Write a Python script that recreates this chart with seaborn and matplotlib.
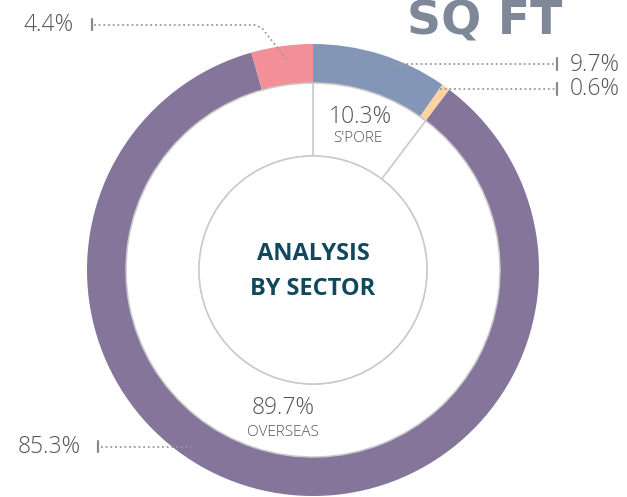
import matplotlib
matplotlib.use("Agg")
import matplotlib.pyplot as plt
import seaborn as sns

# Outer ring: share of floor area by segment (clockwise from 12 o'clock)
segments = ["Singapore A", "Singapore B", "Overseas", "Other"]
outer_values = [9.7, 0.6, 85.3, 4.4]
outer_colors = ["#8496B8", "#FCD3A1", "#85759B", "#F38F97"]

# Inner split: Singapore vs overseas
inner_labels = ["S'PORE", "OVERSEAS"]
inner_values = [10.3, 89.7]

sns.set_theme(style="white")
plt.rcParams["font.family"] = ["Open Sans", "DejaVu Sans"]

W, H = 627, 497
fig = plt.figure(figsize=(W / 100, H / 100), dpi=100)
ax = fig.add_axes([0, 0, 1, 1])


def Y(py):
    """Convert a top-down pixel row into the axes' bottom-up coordinate."""
    return H - py


cx, cy = 313, Y(270)
R_OUT, RING_W, R_MID = 226, 39, 114

# Outer donut ring
ax.pie(outer_values, colors=outer_colors, startangle=90, counterclock=False,
       radius=R_OUT, center=(cx, cy), wedgeprops=dict(width=RING_W, linewidth=0))

# Inner split drawn as thin grey outlines
ax.pie(inner_values, colors=["white", "white"], startangle=90, counterclock=False,
       radius=R_OUT - RING_W, center=(cx, cy),
       wedgeprops=dict(width=R_OUT - RING_W - R_MID, linewidth=1.1, edgecolor="#C9C9C9"))
ax.add_patch(plt.Circle((cx, cy), R_MID, facecolor="white", edgecolor="#C9C9C9", lw=1.1))

ax.set_xlim(0, W)
ax.set_ylim(0, H)
ax.set_aspect("equal")
ax.axis("off")

# Centre title
title_kw = dict(ha="center", va="center", fontsize=17, fontweight="bold", color="#10495E")
ax.text(cx, Y(254), "ANALYSIS", **title_kw)
ax.text(cx, Y(289), "BY SECTOR", **title_kw)

# Heading
ax.text(485, Y(22), "SQ FT", ha="center", va="center", fontsize=34,
        fontweight="bold", family="DejaVu Sans", color="#7E8898")

grey_txt = "#555555"
num_kw = dict(ha="center", va="center", fontsize=16.5, fontweight="light", color=grey_txt)
word_kw = dict(ha="center", va="center", fontsize=11, fontweight="light", color=grey_txt)
# Inner split labels
ax.text(360, Y(117), f"{inner_values[0]}%", **num_kw)
ax.text(358, Y(139), inner_labels[0], **word_kw)
ax.text(283, Y(408), f"{inner_values[1]}%", **num_kw)
ax.text(283, Y(432), inner_labels[1], **word_kw)

# Leader lines and outer labels
dot = dict(color="#9A9A9A", lw=1.3, linestyle=(0, (1, 1.6)))
tick = dict(color="#8A8A8A", lw=1.6)
lab = dict(fontsize=16.5, fontweight="light", color=grey_txt, va="center")

# 9.7%
ax.plot([383, 555], [Y(64), Y(64)], **dot)
ax.plot([557, 557], [Y(58), Y(70)], **tick)
ax.text(570, Y(65), f"{outer_values[0]}%", ha="left", **lab)
# 0.6%
ax.plot([440, 555], [Y(89), Y(89)], **dot)
ax.plot([557, 557], [Y(83), Y(95)], **tick)
ax.text(570, Y(89), f"{outer_values[1]}%", ha="left", **lab)
# 4.4%
ax.plot([94, 255, 262, 287], [Y(25), Y(25), Y(28), Y(60)], **dot)
ax.plot([92, 92], [Y(19), Y(30)], **tick)
ax.text(74, Y(25), f"{outer_values[3]}%", ha="right", **lab)
# 85.3%
ax.plot([101, 191], [Y(447), Y(447)], **dot)
ax.plot([98, 98], [Y(441), Y(452)], **tick)
ax.text(81, Y(447), f"{outer_values[2]}%", ha="right", **lab)

fig.savefig("out.png", dpi=100)
